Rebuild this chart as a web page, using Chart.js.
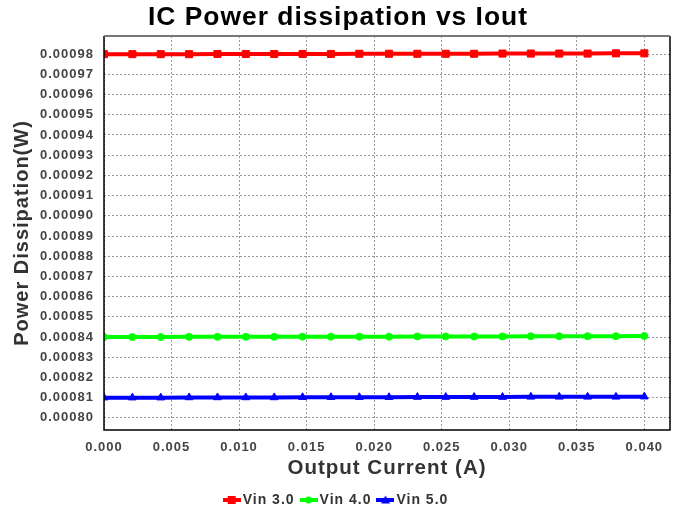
<!DOCTYPE html>
<html><head><meta charset="utf-8">
<script src="https://cdn.jsdelivr.net/npm/chart.js@4/dist/chart.umd.min.js"></script>
<style>html,body{margin:0;padding:0;background:#fff}#wrap{width:678px;height:510px}</style>
</head><body><div id="wrap"><canvas id="c" width="678" height="510"></canvas></div>
<script>
const outputCurrent = [0, 0.0021, 0.0042, 0.0063, 0.0084, 0.0105, 0.0126, 0.0147, 0.0168, 0.0189, 0.0211, 0.0232, 0.0253, 0.0274, 0.0295, 0.0316, 0.0337, 0.0358, 0.0379, 0.0400];
const vin30 = [0.0009800, 0.0009800, 0.0009800, 0.0009800, 0.0009801, 0.0009801, 0.0009801, 0.0009801, 0.0009801, 0.0009802, 0.0009802, 0.0009802, 0.0009802, 0.0009802, 0.0009803, 0.0009803, 0.0009803, 0.0009803, 0.0009804, 0.0009804];
const vin40 = [0.0008400, 0.0008400, 0.0008400, 0.0008401, 0.0008401, 0.0008401, 0.0008401, 0.0008402, 0.0008402, 0.0008402, 0.0008402, 0.0008403, 0.0008403, 0.0008403, 0.0008403, 0.0008404, 0.0008404, 0.0008404, 0.0008404, 0.0008405];
const vin50 = [0.0008100, 0.0008100, 0.0008100, 0.0008101, 0.0008101, 0.0008101, 0.0008101, 0.0008102, 0.0008102, 0.0008102, 0.0008102, 0.0008103, 0.0008103, 0.0008103, 0.0008103, 0.0008104, 0.0008104, 0.0008104, 0.0008104, 0.0008105];
const seriesNames = ['Vin 3.0', 'Vin 4.0', 'Vin 5.0'];
const xTicks = [0, 0.005, 0.010, 0.015, 0.020, 0.025, 0.030, 0.035, 0.040];

const colors = ['#ff0000', '#00ff00', '#0000ff'];
const styles = ['rect', 'circle', 'triangle'];
const radii = [5, 3.5, 4.5];
const seriesData = [vin30, vin40, vin50];

function legendIcon(color, style) {
  const cv = document.createElement('canvas');
  cv.width = 18; cv.height = 10;
  const g = cv.getContext('2d');
  g.fillStyle = color; g.strokeStyle = color;
  g.lineWidth = 4;
  g.beginPath(); g.moveTo(0, 5); g.lineTo(18, 5); g.stroke();
  if (style === 'rect') g.fillRect(5, 1, 8, 8);
  else if (style === 'circle') { g.beginPath(); g.arc(9, 5, 3.5, 0, Math.PI * 2); g.fill(); }
  else { g.beginPath(); g.moveTo(9, 0.5); g.lineTo(13.5, 8.5); g.lineTo(4.5, 8.5); g.closePath(); g.fill(); }
  return cv;
}

const datasets = seriesData.map((arr, i) => ({
  label: seriesNames[i],
  data: outputCurrent.map((x, j) => ({ x: x, y: arr[j] })),
  borderColor: colors[i],
  backgroundColor: colors[i],
  borderWidth: 4,
  pointStyle: styles[i],
  pointRadius: radii[i],
  pointBorderWidth: 1,
  pointBackgroundColor: colors[i],
  pointBorderColor: colors[i],
  tension: 0
}));

const spacing = {
  id: 'spacing',
  afterInit(chart) { chart.ctx.letterSpacing = '1px'; },
  beforeUpdate(chart) { chart.ctx.letterSpacing = '1px'; },
  beforeLayout(chart) { chart.ctx.letterSpacing = '1px'; },
  beforeDraw(chart) { chart.ctx.letterSpacing = '1px'; }
};

const frame = {
  id: 'frame',
  afterDraw(chart) {
    const a = chart.chartArea, ctx = chart.ctx;
    ctx.save();
    ctx.strokeStyle = '#000'; ctx.lineWidth = 1.5;
    ctx.beginPath();
    ctx.moveTo(a.left, a.top); ctx.lineTo(a.left, a.bottom); ctx.lineTo(a.right, a.bottom); ctx.lineTo(a.right, a.top);
    ctx.stroke();
    ctx.strokeStyle = '#777'; ctx.lineWidth = 2;
    ctx.beginPath(); ctx.moveTo(a.left, a.top); ctx.lineTo(a.right, a.top); ctx.stroke();
    ctx.restore();
  }
};

Chart.defaults.font.family = 'Arial, "Liberation Sans", sans-serif';

new Chart(document.getElementById('c'), {
  type: 'line',
  data: { datasets },
  plugins: [spacing, frame],
  options: {
    responsive: false,
    animation: false,
    devicePixelRatio: 1,
    layout: { padding: { left: 6, right: 8, top: 0, bottom: 2 } },
    plugins: {
      title: {
        display: true, text: 'IC Power dissipation vs Iout',
        color: '#000', font: { size: 26.4, weight: 'bold', lineHeight: 1.2 },
        padding: { top: 2, bottom: 2.3 }
      },
      legend: {
        position: 'bottom',
        maxHeight: 25,
        labels: {
          color: '#333', font: { size: 14, weight: 'bold' },
          usePointStyle: true, pointStyleWidth: 8, padding: 10, boxWidth: 8, boxHeight: 10,
          generateLabels(chart) {
            return chart.data.datasets.map((d, i) => ({
              text: d.label, datasetIndex: i, fontColor: '#333',
              pointStyle: legendIcon(colors[i], styles[i]), hidden: false, lineWidth: 0
            }));
          }
        }
      },
      tooltip: { enabled: false }
    },
    scales: {
      x: {
        type: 'linear', min: 0, max: 0.0419,
        afterBuildTicks(s) { s.ticks = xTicks.map(v => ({ value: v })); },
        afterFit(s) { s.height = 53; },
        ticks: { color: '#444', font: { size: 13, weight: 'bold' }, padding: 10,
          callback: v => v.toFixed(3), maxRotation: 0 },
        grid: { color: '#999', drawTicks: false },
        border: { display: false, dash: [2, 2] },
        title: { display: true, text: 'Output Current (A)', color: '#333',
          font: { size: 20.5, weight: 'bold' }, padding: { top: 0, bottom: 2 } }
      },
      y: {
        type: 'linear', min: 0.000794, max: 0.000989,
        afterBuildTicks(s) {
          const t = [];
          for (let k = 80; k <= 98; k++) t.push({ value: k / 100000 });
          s.ticks = t;
        },
        afterFit(s) { s.width = 98; },
        ticks: { color: '#444', font: { size: 13, weight: 'bold' }, padding: 10,
          callback: v => v.toFixed(5) },
        grid: { color: '#999', drawTicks: false },
        border: { display: false, dash: [2, 2] },
        title: { display: true, text: 'Power Dissipation(W)', color: '#333',
          font: { size: 20, weight: 'bold' }, padding: { top: 4, bottom: 0 } }
      }
    }
  }
});
</script></body></html>
